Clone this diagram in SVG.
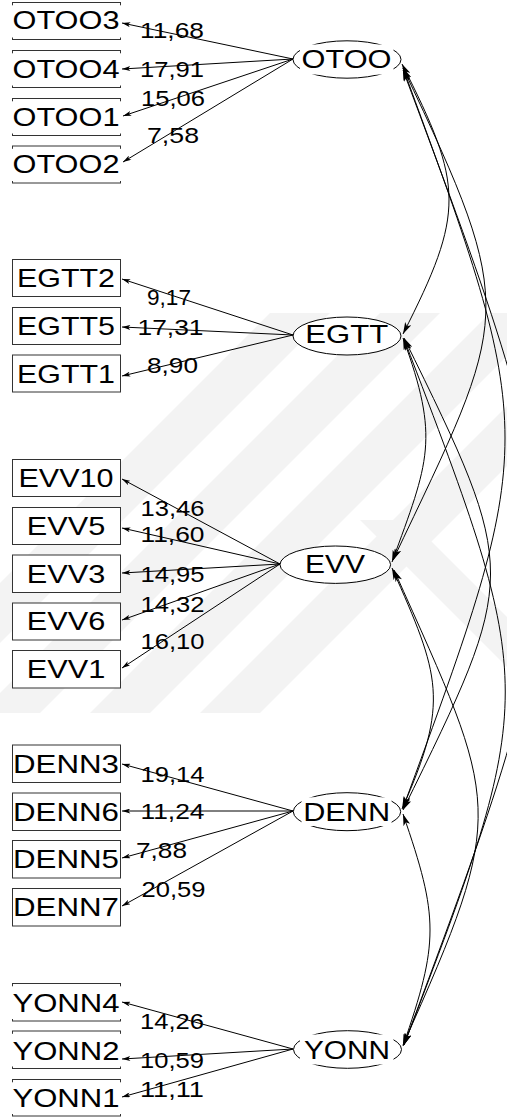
<svg xmlns="http://www.w3.org/2000/svg" width="507" height="1117" viewBox="0 0 507 1117">
  <style>
    .box { fill: #fff; stroke: #333; stroke-width: 1; }
    .lat { fill: #fff; stroke: #000; stroke-width: 1; }
    .mask { fill: #fff; stroke: none; }
    .obs { font-family: "Liberation Sans", Arial, sans-serif; font-size: 25px; fill: #000; text-anchor: middle; }
    .latt { font-family: "Liberation Sans", Arial, sans-serif; font-size: 26px; fill: #000; text-anchor: middle; }
    .val { font-family: "Liberation Sans", Arial, sans-serif; font-size: 22px; fill: #000; }
    .ld { fill: none; stroke: #000; stroke-width: 1; marker-end: url(#ah); }
    .cv { fill: none; stroke: #000; stroke-width: 1; marker-start: url(#ah2); marker-end: url(#ah2); }
    .wm { fill: #f3f3f3; }
  </style>
  <defs>
    <marker id="ah" viewBox="0 0 10 6" refX="10" refY="3" markerWidth="9" markerHeight="5" markerUnits="userSpaceOnUse" orient="auto-start-reverse">
      <path d="M0,0 L10,3 L0,6 L2.5,3 z" fill="#000"/>
    </marker>
    <marker id="ah2" viewBox="0 0 10 6" refX="10" refY="3" markerWidth="12" markerHeight="7" markerUnits="userSpaceOnUse" orient="auto-start-reverse">
      <path d="M0,0 L10,3 L0,6 L2.5,3 z" fill="#000"/>
    </marker>
    <clipPath id="wmclip">
      <rect x="0" y="313" width="507" height="400"/>
    </clipPath>
  </defs>

  <!-- faint background stripes -->
  <g id="background" clip-path="url(#wmclip)">
    <polygon class="wm" points="270,313 330,313 -20,663 -80,663"/>
    <polygon class="wm" points="380,313 440,313 40,713 -20,713"/>
    <polygon class="wm" points="490,313 550,313 150,713 90,713"/>
    <polygon class="wm" points="600,313 660,313 260,713 200,713"/>
    <polygon class="wm" points="360,520 410,520 560,670 510,670"/>
  </g>

  <!-- loadings and covariance arcs -->
  <g id="connectors">
    <!-- loadings: OTOO -->
    <path class="ld" d="M293,59 L122,23"/>
    <path class="ld" d="M293,59 L122,69"/>
    <path class="ld" d="M293,59 L123,116"/>
    <path class="ld" d="M293,59 L123,162"/>
    <!-- loadings: EGTT -->
    <path class="ld" d="M293,335 L122,279"/>
    <path class="ld" d="M293,335 L122,327"/>
    <path class="ld" d="M293,335 L122,376"/>
    <!-- loadings: EVV -->
    <path class="ld" d="M280,564 L122,479"/>
    <path class="ld" d="M280,564 L122,528"/>
    <path class="ld" d="M280,564 L122,573"/>
    <path class="ld" d="M280,564 L122,620"/>
    <path class="ld" d="M280,564 L122,668"/>
    <!-- loadings: DENN -->
    <path class="ld" d="M293,811 L122,764"/>
    <path class="ld" d="M293,811 L122,811"/>
    <path class="ld" d="M293,811 L122,858"/>
    <path class="ld" d="M293,811 L122,906"/>
    <!-- loadings: YONN -->
    <path class="ld" d="M293,1049 L122,1002"/>
    <path class="ld" d="M293,1049 L122,1059"/>
    <path class="ld" d="M293,1049 L122,1097"/>

    <!-- covariances between neighbours -->
    <path class="cv" d="M402,64 C464,186 465,212 403,334"/>
    <path class="cv" d="M403,338 C440,439 429,461 392,562"/>
    <path class="cv" d="M392,568 C440,676 450,701 402,809"/>
    <path class="cv" d="M403,814 C439,918 439,942 403,1046"/>
    <!-- covariances spanning two steps -->
    <path class="cv" d="M403,68 C520,314 510,314 393,560"/>
    <path class="cv" d="M404,338 C520,574 519,574 403,810"/>
    <path class="cv" d="M394,570 C500,807 509,808 403,1045"/>
    <!-- wider covariances -->
    <path class="cv" d="M403,68 C539,438 539,438 403,808"/>
    <path class="cv" d="M404,339 C539,692 539,692 404,1045"/>
    <path class="cv" d="M403,70 C585,557 586,558 404,1045"/>
  </g>

  <!-- latent variables -->
  <g id="OTOO">
    <ellipse class="lat" cx="347" cy="59.5" rx="54" ry="18.7"/>
    <rect class="mask" x="300" y="44.5" width="93.5" height="30"/>
    <text class="latt" x="346.5" y="68.3" textLength="90" lengthAdjust="spacingAndGlyphs">OTOO</text>
  </g>
  <g id="EGTT">
    <ellipse class="lat" cx="347" cy="336" rx="54" ry="19"/>
    <text class="latt" x="346.7" y="343.3" textLength="83" lengthAdjust="spacingAndGlyphs">EGTT</text>
  </g>
  <g id="EVV">
    <ellipse class="lat" cx="335.3" cy="564.7" rx="55.3" ry="18.7"/>
    <text class="latt" x="335" y="572.7" textLength="60" lengthAdjust="spacingAndGlyphs">EVV</text>
  </g>
  <g id="DENN">
    <ellipse class="lat" cx="347" cy="811.7" rx="53.7" ry="19"/>
    <rect class="mask" x="301.5" y="797.3" width="90" height="28.7"/>
    <text class="latt" x="346.7" y="820.7" textLength="87" lengthAdjust="spacingAndGlyphs">DENN</text>
  </g>
  <g id="YONN">
    <ellipse class="lat" cx="347.5" cy="1049.5" rx="54" ry="18.8"/>
    <rect class="mask" x="300" y="1034.5" width="93.5" height="30"/>
    <text class="latt" x="347" y="1059.3" textLength="86" lengthAdjust="spacingAndGlyphs">YONN</text>
  </g>

  <!-- observed indicators: OTOO -->
  <g id="OTOO3">
    <rect class="box" x="12.5" y="2.5" width="108" height="37"/>
    <rect class="mask" x="11" y="5.3" width="111" height="32.2"/>
    <text class="obs" x="66" y="29" textLength="107" lengthAdjust="spacingAndGlyphs">OTOO3</text>
  </g>
  <g id="OTOO4">
    <rect class="box" x="12.5" y="50.5" width="108" height="37"/>
    <rect class="mask" x="11" y="53.3" width="111" height="32.2"/>
    <text class="obs" x="66" y="77.5" textLength="107" lengthAdjust="spacingAndGlyphs">OTOO4</text>
  </g>
  <g id="OTOO1">
    <rect class="box" x="12.5" y="98.5" width="108" height="37"/>
    <rect class="mask" x="11" y="101.3" width="111" height="32.2"/>
    <text class="obs" x="66" y="125.5" textLength="107" lengthAdjust="spacingAndGlyphs">OTOO1</text>
  </g>
  <g id="OTOO2">
    <rect class="box" x="12.5" y="146" width="108" height="37"/>
    <rect class="mask" x="11" y="148.8" width="111" height="32.2"/>
    <text class="obs" x="66" y="173" textLength="107" lengthAdjust="spacingAndGlyphs">OTOO2</text>
  </g>

  <!-- observed indicators: EGTT -->
  <g id="EGTT2">
    <rect class="box" x="12.5" y="259.5" width="108" height="37"/>
    <text class="obs" x="66" y="287.3" textLength="98" lengthAdjust="spacingAndGlyphs">EGTT2</text>
  </g>
  <g id="EGTT5">
    <rect class="box" x="12.5" y="307.5" width="108" height="37"/>
    <text class="obs" x="66" y="335" textLength="98" lengthAdjust="spacingAndGlyphs">EGTT5</text>
  </g>
  <g id="EGTT1">
    <rect class="box" x="12.5" y="355" width="108" height="37"/>
    <text class="obs" x="66" y="383.3" textLength="98" lengthAdjust="spacingAndGlyphs">EGTT1</text>
  </g>

  <!-- observed indicators: EVV -->
  <g id="EVV10">
    <rect class="box" x="12.5" y="459.5" width="108" height="37"/>
    <text class="obs" x="66" y="486.7" textLength="95" lengthAdjust="spacingAndGlyphs">EVV10</text>
  </g>
  <g id="EVV5">
    <rect class="box" x="12.5" y="507.5" width="108" height="37"/>
    <text class="obs" x="66" y="535" textLength="78.5" lengthAdjust="spacingAndGlyphs">EVV5</text>
  </g>
  <g id="EVV3">
    <rect class="box" x="12.5" y="555" width="108" height="37.5"/>
    <text class="obs" x="66" y="582.7" textLength="78.5" lengthAdjust="spacingAndGlyphs">EVV3</text>
  </g>
  <g id="EVV6">
    <rect class="box" x="12.5" y="603" width="108" height="37"/>
    <text class="obs" x="66" y="630" textLength="78.5" lengthAdjust="spacingAndGlyphs">EVV6</text>
  </g>
  <g id="EVV1">
    <rect class="box" x="12.5" y="650.5" width="108" height="37.5"/>
    <text class="obs" x="66" y="678.3" textLength="78.5" lengthAdjust="spacingAndGlyphs">EVV1</text>
  </g>

  <!-- observed indicators: DENN -->
  <g id="DENN3">
    <rect class="box" x="12.5" y="745" width="108" height="37.5"/>
    <text class="obs" x="66" y="773.3" textLength="106" lengthAdjust="spacingAndGlyphs">DENN3</text>
  </g>
  <g id="DENN6">
    <rect class="box" x="12.5" y="793" width="108" height="37.5"/>
    <text class="obs" x="66" y="821" textLength="106" lengthAdjust="spacingAndGlyphs">DENN6</text>
  </g>
  <g id="DENN5">
    <rect class="box" x="12.5" y="840.5" width="108" height="37.5"/>
    <text class="obs" x="66" y="868.3" textLength="106" lengthAdjust="spacingAndGlyphs">DENN5</text>
  </g>
  <g id="DENN7">
    <rect class="box" x="12.5" y="888.5" width="108" height="37.5"/>
    <text class="obs" x="66" y="916" textLength="106" lengthAdjust="spacingAndGlyphs">DENN7</text>
  </g>

  <!-- observed indicators: YONN -->
  <g id="YONN4">
    <rect class="box" x="12.5" y="983.5" width="108" height="37.5"/>
    <rect class="mask" x="11" y="986.3" width="111" height="32.7"/>
    <text class="obs" x="66" y="1011.5" textLength="107" lengthAdjust="spacingAndGlyphs">YONN4</text>
  </g>
  <g id="YONN2">
    <rect class="box" x="12.5" y="1031" width="108" height="37.5"/>
    <rect class="mask" x="11" y="1033.8" width="111" height="32.7"/>
    <text class="obs" x="66" y="1059.5" textLength="107" lengthAdjust="spacingAndGlyphs">YONN2</text>
  </g>
  <g id="YONN1">
    <rect class="box" x="12.5" y="1079.5" width="108" height="36.5"/>
    <rect class="mask" x="11" y="1082.3" width="111" height="31.7"/>
    <text class="obs" x="66" y="1107" textLength="107" lengthAdjust="spacingAndGlyphs">YONN1</text>
  </g>

  <!-- loading values -->
  <g id="values">
    <text class="val" x="140" y="38.3" textLength="64" lengthAdjust="spacingAndGlyphs">11,68</text>
    <text class="val" x="140" y="77.3" textLength="64" lengthAdjust="spacingAndGlyphs">17,91</text>
    <text class="val" x="141" y="106" textLength="64" lengthAdjust="spacingAndGlyphs">15,06</text>
    <text class="val" x="147" y="143.3" textLength="52" lengthAdjust="spacingAndGlyphs">7,58</text>
    <text class="val" x="147" y="305" textLength="44" lengthAdjust="spacingAndGlyphs">9,17</text>
    <text class="val" x="137.5" y="335" textLength="66" lengthAdjust="spacingAndGlyphs">17,31</text>
    <text class="val" x="147" y="373.3" textLength="51" lengthAdjust="spacingAndGlyphs">8,90</text>
    <text class="val" x="140.5" y="516" textLength="64" lengthAdjust="spacingAndGlyphs">13,46</text>
    <text class="val" x="140.5" y="541.7" textLength="64" lengthAdjust="spacingAndGlyphs">11,60</text>
    <text class="val" x="140.5" y="581.7" textLength="64" lengthAdjust="spacingAndGlyphs">14,95</text>
    <text class="val" x="140.5" y="611.7" textLength="64" lengthAdjust="spacingAndGlyphs">14,32</text>
    <text class="val" x="140.5" y="649.3" textLength="64" lengthAdjust="spacingAndGlyphs">16,10</text>
    <text class="val" x="140.5" y="781.7" textLength="64" lengthAdjust="spacingAndGlyphs">19,14</text>
    <text class="val" x="140.5" y="819" textLength="64" lengthAdjust="spacingAndGlyphs">11,24</text>
    <text class="val" x="136" y="858.3" textLength="51" lengthAdjust="spacingAndGlyphs">7,88</text>
    <text class="val" x="141.5" y="896.7" textLength="64" lengthAdjust="spacingAndGlyphs">20,59</text>
    <text class="val" x="140" y="1029" textLength="64" lengthAdjust="spacingAndGlyphs">14,26</text>
    <text class="val" x="140" y="1068.3" textLength="64" lengthAdjust="spacingAndGlyphs">10,59</text>
    <text class="val" x="140" y="1096.7" textLength="64" lengthAdjust="spacingAndGlyphs">11,11</text>
  </g>
</svg>
